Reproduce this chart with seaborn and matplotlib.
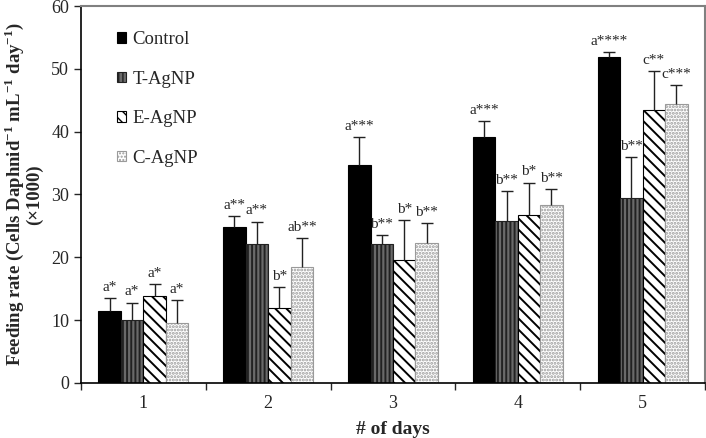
import numpy as np
import pandas as pd
import seaborn as sns
import matplotlib.pyplot as plt

#==============================================================================
# data
days = ['1', '2', '3', '4', '5']
groups = ['Control', 'T-AgNP', 'E-AgNP', 'C-AgNP']

control = [11.5, 24.9, 34.7, 39.1, 51.9]
t_agnp = [10.0, 22.2, 22.2, 25.8, 29.5]
e_agnp = [13.9, 11.9, 19.5, 26.7, 43.4]
c_agnp = [9.5, 18.4, 22.3, 28.4, 44.4]

control_err = [2.0, 1.6, 4.5, 2.6, 0.7]
t_agnp_err = [2.8, 3.5, 1.3, 4.7, 6.5]
e_agnp_err = [1.9, 3.3, 6.4, 5.2, 6.3]
c_agnp_err = [3.7, 4.6, 3.1, 2.5, 3.0]

control_lab = ['a*', 'a**', 'a***', 'a***', 'a****']
t_agnp_lab = ['a*', 'a**', 'b**', 'b**', 'b**']
e_agnp_lab = ['a*', 'b*', 'b*', 'b*', 'c**']
c_agnp_lab = ['a*', 'ab**', 'b**', 'b**', 'c***']

#==============================================================================
sns.set_style('ticks')
plt.rcParams['font.family'] = ['Liberation Serif', 'DejaVu Serif']
plt.rcParams['mathtext.fontset'] = 'custom'
plt.rcParams['mathtext.rm'] = 'Liberation Serif'
plt.rcParams['mathtext.bf'] = 'Liberation Serif:bold'
plt.rcParams['hatch.linewidth'] = 1.4

vals = [control, t_agnp, e_agnp, c_agnp]
errs = [control_err, t_agnp_err, e_agnp_err, c_agnp_err]
labs = [control_lab, t_agnp_lab, e_agnp_lab, c_agnp_lab]

df = pd.DataFrame({
    'day': days * len(groups),
    'group': np.repeat(groups, len(days)),
    'rate': np.concatenate(vals),
})

fig = plt.figure(figsize=(7.06, 4.38), dpi=100)
ax = fig.add_axes([0.1147, 0.1256, 0.8839, 0.8607])

sns.barplot(data=df, x='day', y='rate', hue='group', order=days, hue_order=groups,
            errorbar=None, width=0.72, gap=0, ax=ax, legend=False)

# styles: face, edge, hatch
styles = [('black', 'black', ''),
          ('#6a6a6a', '#222222', '||||'),
          ('white', 'black', '\\\\\\'),
          ('white', '#9a9a9a', '.....')]

for cont, (fc, ec, h), err, lab in zip(ax.containers, styles, errs, labs):
    xs, ys = [], []
    for bar in cont:
        bar.set_facecolor(fc)
        bar.set_edgecolor(ec)
        bar.set_hatch(h)
        bar.set_linewidth(0.8)
        xs.append(bar.get_x() + bar.get_width() / 2)
        ys.append(bar.get_height())
    xs = np.array(xs)
    ys = np.array(ys)
    err = np.array(err)
    eb = ax.errorbar(xs, ys, yerr=[np.zeros_like(err), err], fmt='none',
                     ecolor='#222222', elinewidth=1, capsize=4, capthick=1)
    eb[1][0].set_visible(False)
    for x, y, t in zip(xs, ys + err, lab):
        ax.annotate(t, (x, y), xytext=(0, 3), textcoords='offset points',
                    ha='center', va='bottom', fontsize=11)

plt.rcParams['hatch.linewidth'] = 1.0
handles = [plt.Rectangle((0, 0), 1, 1, facecolor=fc, edgecolor=ec, hatch=h, linewidth=0.8)
           for fc, ec, h in styles]
ax.legend(handles, groups, loc='upper left', bbox_to_anchor=(0.03, 0.978), frameon=False,
          fontsize=13.5, handlelength=0.5, handleheight=0.5, handletextpad=0.35,
          labelspacing=1.2)

ax.set_ylim(0, 60)
ax.set_yticks(range(0, 61, 10))
ax.set_xlim(-0.5, 4.5)
ax.set_xticks(np.arange(-0.5, 4.6, 1), labels=[''] * 6)
ax.set_xticks(range(5), labels=days, minor=True)
ax.tick_params(axis='x', which='minor', length=0, labelsize=13, pad=9)
ax.tick_params(axis='x', which='major', length=5, direction='out', width=1)
ax.tick_params(axis='y', labelsize=13, length=5, width=1)

for side in ['top', 'right']:
    ax.spines[side].set_color('#808080')
    ax.spines[side].set_linewidth(1.5)
for side in ['left', 'bottom']:
    ax.spines[side].set_color('black')
    ax.spines[side].set_linewidth(1.2)

ax.set_xlabel('# of days', fontsize=14, fontweight='bold', labelpad=6)
ax.set_ylabel('Feeding rate (Cells Daphnid$^{\\mathbf{-1}}$ mL$^{\\mathbf{-1}}$ day$^{\\mathbf{-1}}$)\n(\u00d71000)',
              fontsize=13.5, fontweight='bold', labelpad=6, linespacing=1.0)

fig.savefig('out.png', dpi=100)
